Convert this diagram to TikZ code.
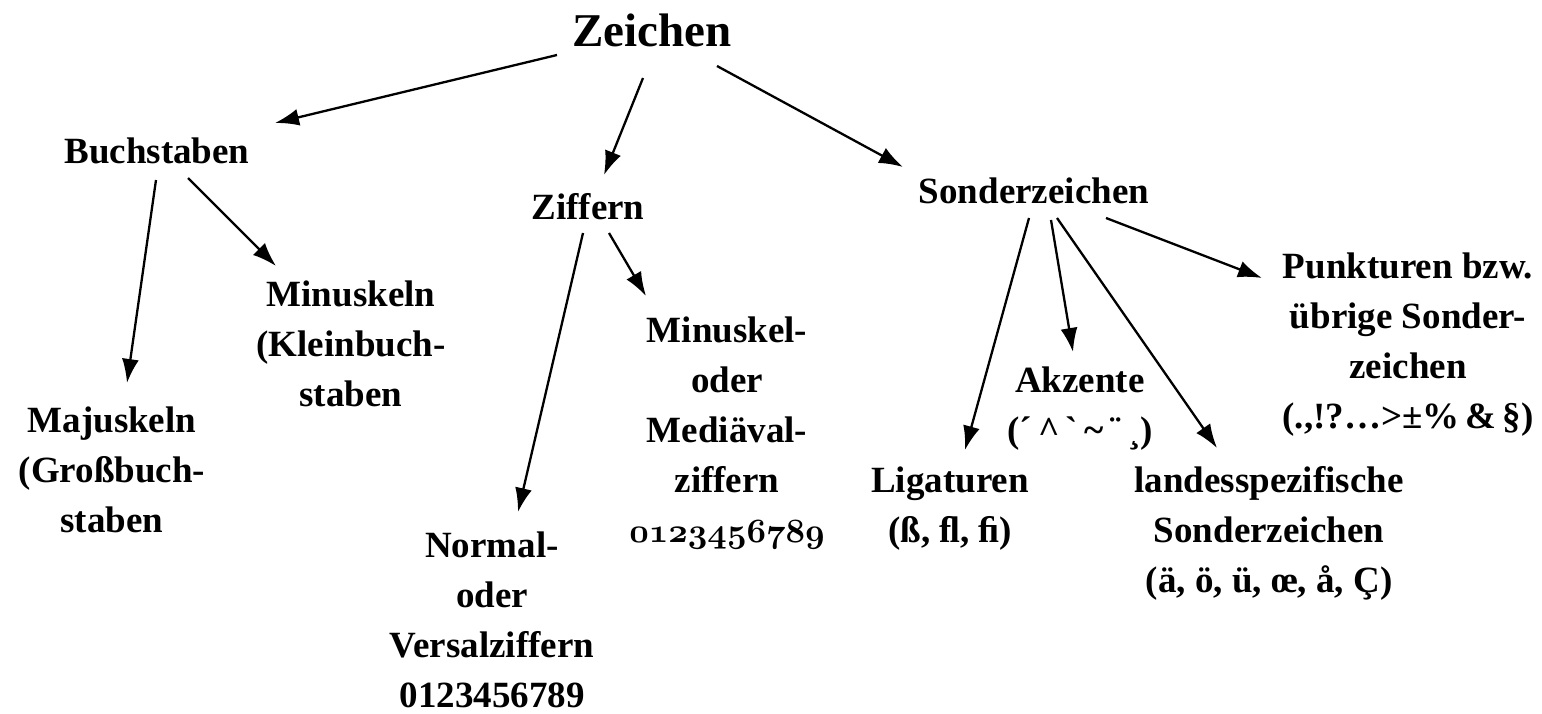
\documentclass[tikz,border=0pt]{standalone}
\usepackage{fontspec}
\setmainfont{Liberation Serif}
\usetikzlibrary{arrows.meta}
\tikzset{
  lbl/.style={anchor=base, align=center, inner sep=0pt, font=\fontsize{37}{50}\selectfont\bfseries},
  title/.style={anchor=base, inner sep=0pt, font=\fontsize{47}{56}\selectfont\bfseries},
  arr/.style={line width=2.3pt, -{Latex[length=24pt,width=17pt]}}
}
\font\osdigitfont=cmmib10 at 34pt
\newcommand{\osdigits}[1]{{\osdigitfont #1}}
\begin{document}
\begin{tikzpicture}[x=1pt,y=-1pt]
\useasboundingbox (0,0) rectangle (1542,714);
% nodes placed by the baseline of their last line
\node[title] (zeichen) at (652,47) {Zeichen};
\node[lbl] (buch) at (157,164) {Buchstaben};
\node[lbl] (ziff) at (588,220) {Ziffern};
\node[lbl] (sonder) at (1034,204) {Sonderzeichen};
\node[lbl] (maj) at (112,532) {Majuskeln\\(Großbuch-\\staben};
\node[lbl] (minus) at (351,406) {Minuskeln\\(Kleinbuch-\\staben};
\node[lbl] (normal) at (492,707) {Normal-\\oder\\Versalziffern\\0123456789};
\node[lbl] (medi) at (727,542) {Minuskel-\\oder\\Mediäval-\\ziffern\\\osdigits{0123456789}};
\node[lbl] (lig) at (950,542) {Ligaturen\\(ß, ﬂ, ﬁ)};
\node[lbl] (akz) at (1080,442) {Akzente\\(´\,\textasciicircum\,ˋ\,\textasciitilde\,¨\,¸)};
\node[lbl] (landes) at (1269,592) {landesspezifische\\Sonderzeichen\\(ä, ö, ü, œ, å, Ç)};
\node[lbl] (punkt) at (1408,428) {Punkturen bzw.\\übrige Sonder-\\zeichen\\(.,!?…>±\%\,\&\,§)};

\draw[arr] ([shift={(-95,8)}]zeichen.base) -- ([shift={(118,-41)}]buch.base);
\draw[arr] ([shift={(-9,31)}]zeichen.base) -- ([shift={(16,-45)}]ziff.base);
\draw[arr] ([shift={(65,19)}]zeichen.base) -- ([shift={(-131,-37)}]sonder.base);
\draw[arr] ([shift={(-1,16)}]buch.base) -- ([shift={(15,-149)}]maj.base);
\draw[arr] ([shift={(31,14)}]buch.base) -- ([shift={(-75,-140)}]minus.base);
\draw[arr] ([shift={(-5,13)}]ziff.base) -- ([shift={(26,-195)}]normal.base);
\draw[arr] ([shift={(21,13)}]ziff.base) -- ([shift={(-81,-246)}]medi.base);
\draw[arr] ([shift={(-5,14)}]sonder.base) -- ([shift={(15,-92)}]lig.base);
\draw[arr] ([shift={(17,16)}]sonder.base) -- ([shift={(-7,-90)}]akz.base);
\draw[arr] ([shift={(23,14)}]sonder.base) -- ([shift={(-52,-144)}]landes.base);
\draw[arr] ([shift={(72,14)}]sonder.base) -- ([shift={(-146,-150)}]punkt.base);
\end{tikzpicture}
\end{document}
